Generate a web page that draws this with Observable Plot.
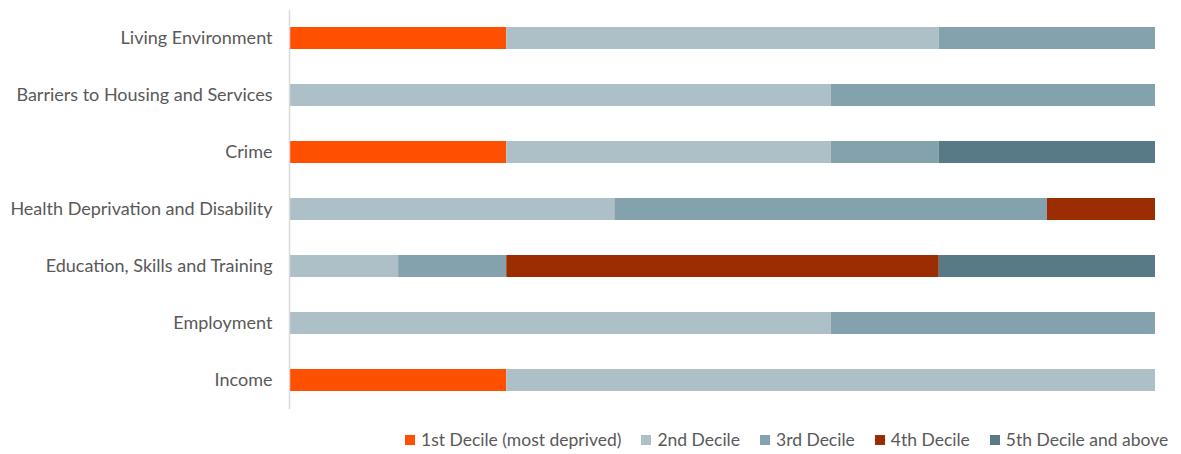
<!DOCTYPE html>
<html>
<head>
<meta charset="utf-8">
<script src="https://cdn.jsdelivr.net/npm/d3@7"></script>
<script src="https://cdn.jsdelivr.net/npm/@observablehq/plot@0.6"></script>
<style>
  body { margin: 0; background: #fff; font-family: Lato, "Open Sans", sans-serif; }
  #chart svg { display: block; }
  #legend { display: flex; flex-wrap: nowrap; white-space: nowrap; padding-left: 405px; margin-top: 9px; font-size: 17.5px; line-height: 22px; color: #595959; }
  .item { display: flex; flex-shrink: 0; align-items: center; margin-right: 20px; }
  .sw { width: 10px; height: 10px; margin-right: 6px; flex-shrink: 0; }
</style>
</head>
<body>
<div id="chart"></div>
<div id="legend"></div>
<script>
const categories = ["Living Environment", "Barriers to Housing and Services", "Crime", "Health Deprivation and Disability", "Education, Skills and Training", "Employment", "Income"];
const deciles = ["1st Decile (most deprived)", "2nd Decile", "3rd Decile", "4th Decile", "5th Decile and above"];
const colors = ["#FF5000", "#ADC0C7", "#84A2AE", "#9A2E00", "#587A86"];
const decile1 = [2, 0, 2, 0, 0, 0, 2];
const decile2 = [4, 5, 3, 3, 1, 5, 6];
const decile3 = [2, 3, 1, 4, 1, 3, 0];
const decile4 = [0, 0, 0, 1, 4, 0, 0];
const decile5 = [0, 0, 2, 0, 2, 0, 0];

const series = [decile1, decile2, decile3, decile4, decile5];
const data = [];
series.forEach((vals, si) => vals.forEach((v, ci) => {
  if (v > 0) data.push({category: categories[ci], decile: deciles[si], value: v, order: si});
}));

const chart = Plot.plot({
  width: 1181,
  height: 420,
  marginLeft: 290,
  marginRight: 26,
  marginTop: 10,
  marginBottom: 11,
  style: {fontFamily: "Lato, 'Open Sans', sans-serif", fontSize: "18px", color: "#595959"},
  x: {domain: [0, 8], axis: null},
  y: {domain: categories, paddingInner: 0.61, paddingOuter: 0.305, label: null, tickSize: 0, tickPadding: 18},
  color: {domain: deciles, range: colors},
  marks: [
    Plot.barX(data, Plot.stackX({x: "value", y: "category", fill: "decile", order: "order"})),
    Plot.ruleX([0], {stroke: "#d9d9d9", strokeWidth: 1.5, dx: -1})
  ]
});
document.getElementById("chart").appendChild(chart);

const legend = document.getElementById("legend");
deciles.forEach((d, i) => {
  const it = document.createElement("div");
  it.className = "item";
  it.innerHTML = `<div class="sw" style="background:${colors[i]}"></div><span>${d}</span>`;
  legend.appendChild(it);
});
</script>
</body>
</html>
